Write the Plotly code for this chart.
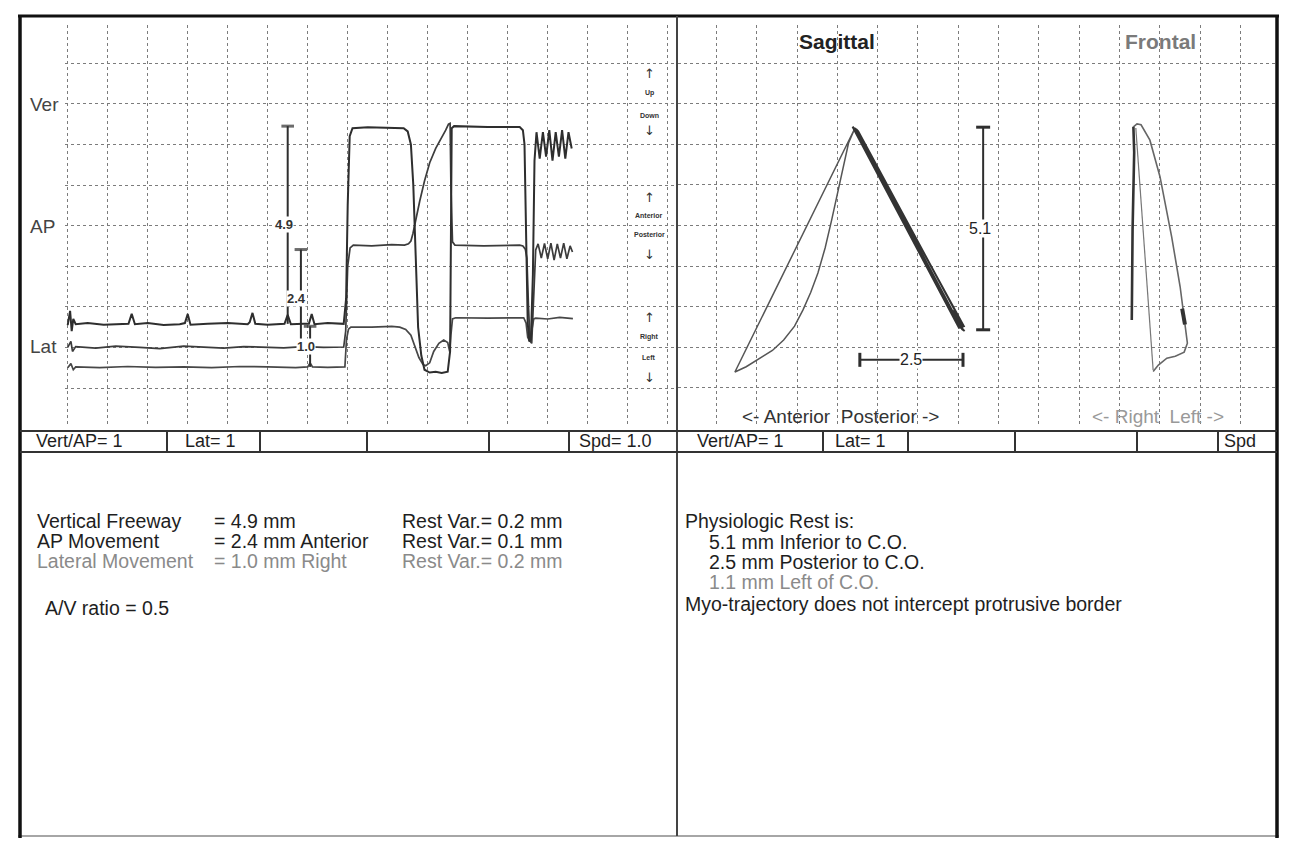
import plotly.graph_objects as go

W, H = 1290, 842
FONT = "Liberation Sans, Arial, sans-serif"

# ---------------- DATA ----------------
# Time-series panel (x: time in grid divisions, y: displacement in mm, 1 grid = 1 mm)
vert_t = [0.0, 0.06, 0.1, 0.14, 0.2, 0.5, 0.9, 1.3, 1.52, 1.6,
          1.68, 2.0, 2.4, 2.8, 2.93, 3.0, 3.07, 3.5, 4.0, 4.5,
          4.55, 4.62, 4.69, 5.0, 5.42, 5.5, 5.58, 5.9, 6.03, 6.1,
          6.17, 6.5, 6.9, 6.96, 7.0, 7.05, 7.12, 7.5, 8.0, 8.4,
          8.5, 8.58, 8.64, 8.7, 8.76, 8.84, 8.92, 9.05, 9.2, 9.35,
          9.5, 9.56, 9.6, 9.66, 10.5, 11.3, 11.38, 11.42, 11.46, 11.5,
          11.54, 11.58, 11.63, 11.67, 11.72, 11.8, 11.88, 11.96, 12.04, 12.12,
          12.2, 12.28, 12.36, 12.44, 12.52, 12.6]
vert_mm = [1.55, 1.9, 1.4, 1.7, 1.57, 1.6, 1.56, 1.58, 1.58, 1.83,
           1.57, 1.6, 1.55, 1.57, 1.6, 1.82, 1.56, 1.58, 1.6, 1.57,
           1.62, 1.85, 1.58, 1.56, 1.58, 1.8, 1.57, 1.58, 1.58, 1.82,
           1.57, 1.6, 1.58, 2.2, 4.5, 6.2, 6.4, 6.42, 6.4, 6.4,
           6.32, 6.0, 5.0, 3.0, 1.5, 0.8, 0.45, 0.38, 0.4, 0.37,
           0.4, 0.9, 6.4, 6.45, 6.43, 6.43, 6.35, 6.0, 4.0, 1.6,
           1.15, 1.2, 2.8, 5.6, 6.3, 5.65, 6.3, 5.7, 6.35, 5.6,
           6.3, 5.7, 6.35, 5.65, 6.3, 5.9]

ap_t = [0.0, 0.08, 0.12, 0.2, 0.7, 1.2, 1.8, 2.3, 2.9, 3.4,
        3.9, 4.4, 4.9, 5.4, 5.9, 6.4, 6.9, 6.95, 7.0, 7.06,
        7.14, 7.6, 8.1, 8.42, 8.52, 8.58, 8.63, 8.7, 8.8, 8.92,
        9.05, 9.2, 9.35, 9.45, 9.52, 9.56, 9.58, 9.62, 9.68, 10.4,
        11.3, 11.38, 11.44, 11.48, 11.52, 11.56, 11.6, 11.64, 11.7, 11.76,
        11.84, 11.92, 12.0, 12.08, 12.16, 12.24, 12.32, 12.4, 12.48, 12.56,
        12.62]
ap_mm = [1.0, 1.15, 0.9, 1.02, 0.98, 1.03, 1.0, 0.97, 1.03, 1.0,
         0.98, 1.02, 1.0, 0.99, 1.02, 1.0, 1.01, 1.4, 3.0, 3.45,
         3.52, 3.5, 3.53, 3.52, 3.55, 3.62, 3.8, 4.15, 4.6, 5.1,
         5.55, 5.9, 6.15, 6.35, 6.5, 6.52, 5.0, 3.6, 3.52, 3.5,
         3.52, 3.5, 3.42, 3.2, 2.0, 1.15, 1.1, 2.0, 3.4, 3.55,
         3.2, 3.56, 3.18, 3.57, 3.15, 3.55, 3.2, 3.57, 3.18, 3.5,
         3.35]

lat_t = [0.0, 0.08, 0.14, 0.2, 0.8, 1.5, 2.2, 2.9, 3.6, 4.3,
         5.0, 5.7, 6.0, 6.06, 6.12, 6.5, 6.93, 6.97, 7.02, 7.08,
         7.6, 8.1, 8.3, 8.45, 8.58, 8.68, 8.78, 8.88, 8.95, 9.05,
         9.15, 9.28, 9.4, 9.5, 9.55, 9.58, 9.62, 9.7, 10.5, 11.4,
         11.46, 11.5, 11.55, 11.6, 11.65, 11.7, 12.0, 12.3, 12.63]
lat_mm = [0.5, 0.6, 0.45, 0.52, 0.5, 0.53, 0.51, 0.52, 0.5, 0.53,
          0.52, 0.5, 0.52, 0.62, 0.52, 0.51, 0.52, 1.2, 1.45, 1.5,
          1.5, 1.52, 1.5, 1.44, 1.3, 1.05, 0.75, 0.58, 0.55, 0.62,
          0.9, 1.1, 1.18, 1.12, 0.9, 1.3, 1.7, 1.73, 1.72, 1.73,
          1.6, 1.25, 1.15, 1.4, 1.7, 1.72, 1.7, 1.74, 1.71]

# measurement bars on the time-series panel
meas_labels = ["4.9", "2.4", "1.0"]
meas_t = [5.5, 5.83, 6.06]
meas_lo = [1.58, 1.01, 0.52]
meas_hi = [6.45, 3.41, 1.52]

# Sagittal trajectory (x: AP mm, posterior +; y: vertical mm, 0 = C.O.)
sag_ant_ap = [0.0, -2.98, -2.7, -2.35, -2.05, -1.77, -1.5, -1.29, -1.1, -0.92,
              -0.74, -0.58, -0.46, -0.35, -0.16, 0.0]
sag_ant_v = [0.0, -6.01, -5.88, -5.67, -5.48, -5.22, -4.88, -4.48, -4.05, -3.57,
             -2.95, -2.27, -1.72, -1.21, -0.37, 0.0]
sag_post_ap = [0.0, 2.66, 2.72, 2.6, 0.06, -0.06, 2.58, 2.7, 0.03, 0.08,
               2.68, 2.5, 2.42, 2.55, 2.68]
sag_post_v = [0.0, -4.96, -5.0, -4.9, -0.1, 0.03, -4.92, -4.88, -0.03, -0.08,
              -4.86, -4.62, -4.5, -4.6, -4.98]
sag_vbar_ap = [3.18, 3.18]
sag_vbar_v = [0.02, -4.97]
sag_hbar_ap = [0.12, 2.68]
sag_hbar_v = [-5.71, -5.71]
sag_labels = ["5.1", "2.5"]

# Frontal trajectory (x: lateral mm, left +; y: vertical mm)
fr_a_lat = [-0.04, -0.02, -0.06, -0.08]
fr_a_v = [0.03, -0.6, -2.5, -4.73]
fr_b_lat = [0.02, 0.45]
fr_b_v = [0.0, -5.96]
fr_c_lat = [-0.04, 0.05, 0.15, 0.37, 0.62, 0.79, 0.91, 1.12, 1.24, 1.3,
            1.22, 1.0, 0.79, 0.58, 0.45]
fr_c_v = [0.03, 0.1, 0.08, -0.3, -1.2, -2.02, -2.68, -3.91, -4.81, -5.3,
          -5.52, -5.62, -5.67, -5.84, -6.0]
fr_rest_lat = [1.17, 1.24]
fr_rest_v = [-4.45, -4.84]

for a, b in [(vert_t, vert_mm), (ap_t, ap_mm), (lat_t, lat_mm),
             (sag_ant_ap, sag_ant_v), (sag_post_ap, sag_post_v),
             (fr_c_lat, fr_c_v), (fr_a_lat, fr_a_v)]:
    assert len(a) == len(b)

# ---------------- FIGURE ----------------
fig = go.Figure()
DARK = "#2e2e2e"

fig.add_trace(go.Scatter(x=lat_t, y=lat_mm, mode="lines", line=dict(color="#474747", width=1.7), xaxis="x", yaxis="y"))
fig.add_trace(go.Scatter(x=ap_t, y=ap_mm, mode="lines", line=dict(color="#3c3c3c", width=1.7), xaxis="x", yaxis="y"))
fig.add_trace(go.Scatter(x=vert_t, y=vert_mm, mode="lines", line=dict(color=DARK, width=2), xaxis="x", yaxis="y"))

for lab, t, lo, hi in zip(meas_labels, meas_t, meas_lo, meas_hi):
    fig.add_trace(go.Scatter(x=[t, t], y=[lo, hi], mode="lines+markers",
                             line=dict(color=DARK, width=2),
                             marker=dict(symbol=["line-ew", "line-ew"], size=[0, 9],
                                         line=dict(width=3, color=DARK)),
                             xaxis="x", yaxis="y"))
    fig.add_annotation(x=t, y=(lo + hi) / 2, xref="x", yref="y", text="<b>" + lab + "</b>", showarrow=False,
                       bgcolor="white", borderpad=0, xshift=-4,
                       font=dict(family=FONT, size=13, color="#333"))

# sagittal
fig.add_trace(go.Scatter(x=sag_ant_ap, y=sag_ant_v, mode="lines", line=dict(color="#555", width=1.5), xaxis="x2", yaxis="y2"))
fig.add_trace(go.Scatter(x=sag_post_ap, y=sag_post_v, mode="lines", line=dict(color="#333", width=2), xaxis="x2", yaxis="y2"))
fig.add_trace(go.Scatter(x=sag_vbar_ap, y=sag_vbar_v, mode="lines+markers", line=dict(color=DARK, width=2),
                         marker=dict(symbol="line-ew", size=10, line=dict(width=3, color=DARK)), xaxis="x2", yaxis="y2"))
fig.add_trace(go.Scatter(x=sag_hbar_ap, y=sag_hbar_v, mode="lines+markers", line=dict(color=DARK, width=2),
                         marker=dict(symbol="line-ns", size=10, line=dict(width=3, color=DARK)), xaxis="x2", yaxis="y2"))
fig.add_annotation(x=sag_vbar_ap[0], y=(sag_vbar_v[0] + sag_vbar_v[1]) / 2, xref="x2", yref="y2", text=sag_labels[0],
                   showarrow=False, bgcolor="white", borderpad=0, xshift=-3, font=dict(family=FONT, size=16, color="#222"))
fig.add_annotation(x=(sag_hbar_ap[0] + sag_hbar_ap[1]) / 2, y=sag_hbar_v[0], xref="x2", yref="y2", text=sag_labels[1],
                   showarrow=False, bgcolor="white", borderpad=0, font=dict(family=FONT, size=16, color="#222"))

# frontal
fig.add_trace(go.Scatter(x=fr_c_lat, y=fr_c_v, mode="lines", line=dict(color="#666", width=1.6), xaxis="x3", yaxis="y2"))
fig.add_trace(go.Scatter(x=fr_b_lat, y=fr_b_v, mode="lines", line=dict(color="#777", width=1.2), xaxis="x3", yaxis="y2"))
fig.add_trace(go.Scatter(x=fr_a_lat, y=fr_a_v, mode="lines", line=dict(color="#333", width=2.6), xaxis="x3", yaxis="y2"))
fig.add_trace(go.Scatter(x=fr_rest_lat, y=fr_rest_v, mode="lines", line=dict(color="#333", width=4), xaxis="x3", yaxis="y2"))

# ---------------- AXES ----------------
def px(p):
    return p / W

def py(p):
    return 1 - p / H

GRID = dict(showgrid=True, gridcolor="#7c7c7c", gridwidth=1, griddash="dot",
            zeroline=False, showticklabels=False, ticks="", showline=False, dtick=1)

ytop, ybot = 25, 427
fig.update_layout(
    xaxis=dict(domain=[px(65), px(677)], range=[(65 - 67.7) / 40, (677 - 67.7) / 40], tick0=0, anchor="y", **GRID),
    yaxis=dict(domain=[py(ybot), py(ytop)], range=[(388 - ybot) / 40.6, (388 - ytop) / 40.6], tick0=0, anchor="x", **GRID),
    xaxis2=dict(domain=[px(678), px(1275)], range=[(678 - 855) / 40.3, (1275 - 855) / 40.3],
                tick0=(716.4 - 855) / 40.3, anchor="y2", **GRID),
    yaxis2=dict(domain=[py(ybot), py(ytop)], range=[(128 - ybot) / 40.6, (128 - ytop) / 40.6],
                tick0=(128 - 63) / 40.6, anchor="x2", **GRID),
    xaxis3=dict(overlaying="x2", domain=[px(678), px(1275)], range=[(678 - 1135) / 40.3, (1275 - 1135) / 40.3],
                anchor="y2", visible=False, showgrid=False),
)

# ---------------- FRAME & TABLE ----------------
shapes = []
def hline(y, x0, x1, w, c):
    shapes.append(dict(type="line", xref="paper", yref="paper", x0=px(x0), x1=px(x1), y0=py(y), y1=py(y),
                       line=dict(color=c, width=w)))
def vline(x, y0, y1, w, c):
    shapes.append(dict(type="line", xref="paper", yref="paper", x0=px(x), x1=px(x), y0=py(y0), y1=py(y1),
                       line=dict(color=c, width=w)))

hline(16, 18, 1279, 3, "#111")
hline(836, 18, 1279, 1.5, "#888")
vline(20, 15, 838, 3.5, "#111")
vline(1277, 15, 838, 3.5, "#111")
vline(677, 16, 836, 2, "#444")
hline(431, 20, 1277, 2, "#333")
hline(452, 20, 1277, 2, "#333")
for x in [167, 260, 367, 489, 569, 823, 908, 1015, 1137, 1218]:
    vline(x, 431, 452, 2, "#333")
fig.update_layout(shapes=shapes)

def txt(x, y, s, size=17, color="#1e1e1e", anchor="left", bold=False, family=FONT):
    if bold:
        s = "<b>" + s + "</b>"
    fig.add_annotation(x=px(x), y=py(y), xref="paper", yref="paper", text=s, showarrow=False,
                       xanchor=anchor, yanchor="middle", font=dict(family=family, size=size, color=color))

GRAY = "#8a8a8a"
# channel labels
txt(28, 105, "Ver", 19, "#444")
txt(28, 226, "AP", 19, "#444")
txt(28, 347, "Lat", 19, "#444")

# direction hints
ARROWF = "DejaVu Sans, sans-serif"
for y, s in [(74, "↑"), (131, "↓"), (197, "↑"), (254, "↓"), (318, "↑"), (377, "↓")]:
    txt(649, y, s, 13, "#333", "center", False, ARROWF)
for y, s in [(93, "Up"), (115, "Down"), (215, "Anterior"), (235, "Posterior"), (337, "Right"), (357, "Left")]:
    txt(649, y, s, 7, "#333", "center", True)

# titles
txt(837, 42, "Sagittal", 21, "#222", "center", True)
txt(1160, 42, "Frontal", 21, "#7a7a7a", "center", True)
txt(840, 416, "&lt;- Anterior&nbsp;&nbsp;Posterior -&gt;", 19, "#333", "center")
txt(1158, 416, "&lt;- Right&nbsp;&nbsp;Left -&gt;", 19, "#999", "center")

# table row
txt(34, 441, "Vert/AP= 1", 18)
txt(183, 441, "Lat= 1", 18)
txt(577, 441, "Spd= 1.0", 18)
txt(695, 441, "Vert/AP= 1", 18)
txt(833, 441, "Lat= 1", 18)
txt(1222, 441, "Spd", 18)

# results text
FS = 19.5
txt(35, 521, "Vertical Freeway", FS)
txt(212, 521, "= 4.9 mm", FS)
txt(400, 521, "Rest Var.= 0.2 mm", FS)
txt(35, 541, "AP Movement", FS)
txt(212, 541, "= 2.4 mm Anterior", FS)
txt(400, 541, "Rest Var.= 0.1 mm", FS)
txt(35, 561, "Lateral Movement", FS, GRAY)
txt(212, 561, "= 1.0 mm Right", FS, GRAY)
txt(400, 561, "Rest Var.= 0.2 mm", FS, GRAY)
txt(43, 608, "A/V ratio = 0.5", FS)

txt(683, 521, "Physiologic Rest is:", FS)
txt(707, 542, "5.1 mm Inferior to C.O.", FS)
txt(707, 562, "2.5 mm Posterior to C.O.", FS)
txt(707, 582, "1.1 mm Left of C.O.", FS, GRAY)
txt(683, 604, "Myo-trajectory does not intercept protrusive border", FS)

fig.update_layout(width=W, height=H, margin=dict(l=0, r=0, t=0, b=0), autosize=False,
                  paper_bgcolor="white", plot_bgcolor="rgba(0,0,0,0)", showlegend=False,
                  font=dict(family=FONT))

fig.write_html("out.html", config={"displayModeBar": False})
